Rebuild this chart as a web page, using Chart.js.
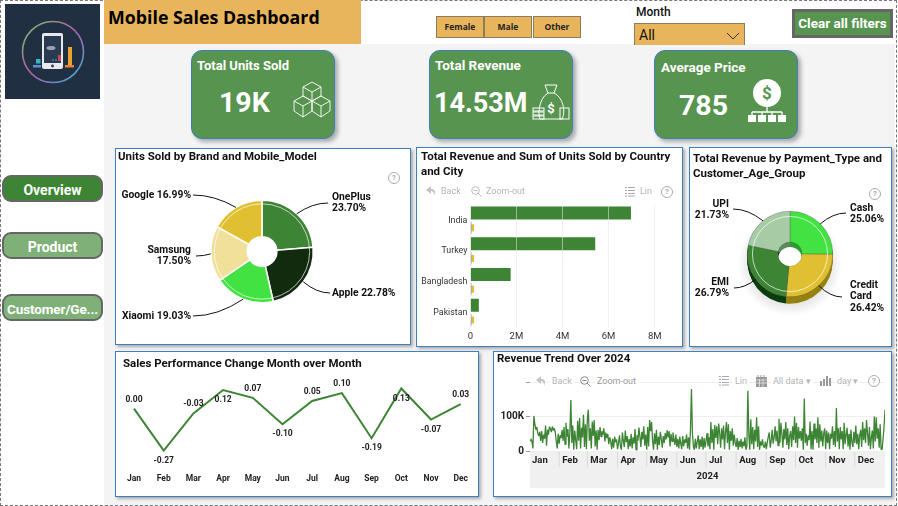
<!DOCTYPE html>
<html>
<head>
<meta charset="utf-8">
<title>Mobile Sales Dashboard</title>
<script src="https://cdn.jsdelivr.net/npm/chart.js@4"></script>
<style>
html, body { margin: 0; padding: 0; background: #fff; }
body { width: 898px; height: 506px; position: relative; overflow: hidden; font-family: Roboto, sans-serif; color: #111; }
div, span, svg, canvas { position: absolute; }
#frame { left: 0; top: 0; width: 895px; height: 504px; border: 1px dashed #777; }
#floor { left: 104px; top: 44px; width: 791px; height: 462px; background: #f4f4f4; }
#titlebar { left: 104px; top: 0; width: 257px; height: 44px; background: #e9b55c; }
#titlebar span { left: 4px; top: 5px; font: 700 17.8px "Open Sans", sans-serif; white-space: nowrap; color: #000; }
#logo { left: 5px; top: 4px; width: 95px; height: 95px; }
.slicer { top: 16px; height: 20px; background: #e9b55c; border: 1px solid #8d7c5c; font: 700 8.5px/20px "Open Sans", sans-serif; text-align: center; color: #222; }
#monthLabel { left: 636px; top: 5px; font: 500 12px Roboto; white-space: nowrap; }
#monthBox { left: 634px; top: 23px; width: 109px; height: 21px; background: #e9b55c; border: 1px solid #8d7c5c; border-bottom: 0; }
#monthBox span { left: 4px; top: 3px; font: 400 14px Roboto; }
#clear { left: 792px; top: 9px; width: 95px; height: 23px; background: #57944f; border: 3px solid #666; color: #fff; font: 700 13.5px/23px Roboto; text-align: center; white-space: nowrap; }
.nav { left: 2px; width: 97px; height: 23px; border: 2px solid #666; border-radius: 9px; color: #fff; font: 700 14px/26px Roboto; text-align: center; white-space: nowrap; }
.card { top: 50px; width: 142px; height: 87px; background: #57944f; border: 1px solid #3f7fbf; border-radius: 11px; box-shadow: 3px 3px 4px #aaa; }
.cardtitle { color: #fff; font: 700 13.5px Roboto; white-space: nowrap; }
.cardvalue { color: #fff; font: 700 28.5px Roboto; white-space: nowrap; }
.panel { background: #fff; border: 1px solid #3f7fbf; box-shadow: 2px 2px 3px #aaa; }
.ptitle { font: 700 11.5px/14.5px Roboto; color: #111; }
.tb { font: 400 9px Roboto; color: #b4b4b4; white-space: nowrap; }
.help { width: 10px; height: 10px; border: 1px solid #aaa; border-radius: 50%; font: 700 8px/10px Roboto; color: #aaa; text-align: center; }
</style>
</head>
<body>
<div id="floor"></div>
<div id="frame"></div>

<svg id="logo" viewBox="0 0 95 95">
  <defs><linearGradient id="ringGrad" x1="0" y1="0" x2="1" y2="1">
    <stop offset="0" stop-color="#7fc06a"/><stop offset=".5" stop-color="#b05aa8"/><stop offset="1" stop-color="#35b8d8"/>
  </linearGradient></defs>
  <rect width="95" height="95" fill="#212f42"/>
  <circle cx="48" cy="48" r="30.5" fill="none" stroke="url(#ringGrad)" stroke-width="1.6"/>
  <rect x="37" y="29" width="21" height="36" rx="2" fill="#e8e8ee"/>
  <rect x="39" y="32" width="17" height="27" fill="#2a3a50"/>
  <ellipse cx="46" cy="44" rx="4.5" ry="2" fill="#9aa3b2"/>
  <circle cx="47.5" cy="62" r="1.4" fill="#2a3a50"/>
  <rect x="63" y="43" width="4" height="19" fill="#eda42e"/>
  <rect x="60" y="61" width="9" height="2.5" fill="#e8853a"/>
  <rect x="31" y="55" width="4.5" height="4.5" fill="#36b6c6"/>
  <rect x="28" y="61" width="8" height="2.5" fill="#5b8fd0"/>
  <rect x="53" y="51" width="3" height="6" fill="#c44a4a"/>
  <rect x="47" y="55" width="2" height="2" fill="#3a6aa0"/>
  <rect x="50" y="55" width="2" height="2" fill="#3a6aa0"/>
</svg>

<div id="titlebar"><span>Mobile Sales Dashboard</span></div>

<div class="slicer" style="left:436px;width:46px">Female</div>
<div class="slicer" style="left:484px;width:46px">Male</div>
<div class="slicer" style="left:533px;width:46px">Other</div>
<div id="monthLabel">Month</div>
<div id="monthBox"><span>All</span>
  <svg style="left:91px;top:8px" width="14" height="8"><path d="M1 1 L7 7 L13 1" fill="none" stroke="#333"/></svg>
</div>
<div id="clear">Clear all filters</div>

<div class="nav" style="top:175px;background:#3d8535">Overview</div>
<div class="nav" style="top:232px;background:#7fb078">Product</div>
<div class="nav" style="top:294px;background:#7fb078;font-size:13.5px;letter-spacing:-0.1px">Customer/Ge...</div>

<div class="card" style="left:191px"></div>
<div class="cardtitle" style="left:197px;top:58px;font-size:13px">Total Units Sold</div>
<div class="cardvalue" style="left:219px;top:86px">19K</div>
<svg style="left:293px;top:81px" width="38" height="38" fill="none" stroke="#fff" stroke-width=".9">
  <path d="M19 1 L28 6 L28 15 L19 20 L10 15 L10 6 Z M10 6 L19 11 L28 6 M19 11 L19 20"/>
  <path d="M10 15 L19 20 L19 30 L10 36 L1 30 L1 20 Z M1 20 L10 25 L19 20 M10 25 L10 36"/>
  <path d="M28 15 L37 20 L37 30 L28 36 L19 30 L19 20 Z M19 20 L28 25 L37 20 M28 25 L28 36"/>
</svg>

<div class="card" style="left:429px"></div>
<div class="cardtitle" style="left:435px;top:57px">Total Revenue</div>
<div class="cardvalue" style="left:434px;top:87px;font-size:27px">14.53M</div>
<svg style="left:532px;top:84px" width="38" height="38" fill="none" stroke="#fff" stroke-width="1">
  <path d="M13 1 L25 1 L22 9 L16 9 Z M16 9 C6 15 6 32 8 35 L30 35 C33 30 33 15 22 9"/>
  <rect x="1" y="24" width="11" height="3"/><rect x="1" y="28" width="11" height="3"/><rect x="1" y="32" width="11" height="3"/>
  <rect x="28" y="24" width="9" height="11"/>
  <text x="19" y="29" font-size="13" font-weight="700" text-anchor="middle" fill="#fff" stroke="none">$</text>
</svg>

<div class="card" style="left:654px"></div>
<div class="cardtitle" style="left:661px;top:59px">Average Price</div>
<div class="cardvalue" style="left:679px;top:89px">785</div>
<svg style="left:747px;top:79px" width="40" height="44">
  <circle cx="20" cy="14" r="14" fill="#fff"/>
  <text x="20" y="20" font-size="17" font-weight="700" text-anchor="middle" fill="#57944f">$</text>
  <path d="M20 28 L20 33 M5 33 L35 33 M5 33 L5 36 M15 33 L15 36 M25 33 L25 36 M35 33 L35 36" stroke="#fff" stroke-width="1.3"/>
  <rect x="1" y="36" width="8" height="7" fill="#fff"/><rect x="11" y="36" width="8" height="7" fill="#fff"/>
  <rect x="21" y="36" width="8" height="7" fill="#fff"/><rect x="31" y="36" width="8" height="7" fill="#fff"/>
</svg>

<div class="panel" style="left:115px;top:148px;width:294px;height:195px"></div>
<div class="panel" style="left:416px;top:147px;width:265px;height:198px"></div>
<div class="panel" style="left:689px;top:147px;width:201px;height:198px"></div>
<div class="panel" style="left:115px;top:351px;width:362px;height:144px"></div>
<div class="panel" style="left:493px;top:351px;width:397px;height:144px"></div>

<canvas id="brandChart" style="left:115px;top:148px" width="295" height="196"></canvas>
<canvas id="countryChart" style="left:416px;top:147px" width="266" height="199"></canvas>
<canvas id="paymentChart" style="left:689px;top:147px" width="202" height="199"></canvas>
<canvas id="changeChart" style="left:115px;top:351px" width="363" height="145"></canvas>
<canvas id="trendChart" style="left:493px;top:351px" width="398" height="145"></canvas>

<div class="ptitle" style="left:118px;top:149px;white-space:nowrap">Units Sold by Brand and Mobile_Model</div>
<div class="ptitle" style="left:421px;top:149px;width:260px">Total Revenue and Sum of Units Sold by Country and City</div>
<div class="ptitle" style="left:693px;top:151px;width:195px">Total Revenue by Payment_Type and Customer_Age_Group</div>
<div class="ptitle" style="left:123px;top:356px;white-space:nowrap">Sales Performance Change Month over Month</div>
<div class="ptitle" style="left:497px;top:351px;white-space:nowrap">Revenue Trend Over 2024</div>

<div class="help" style="left:388px;top:172px">?</div>
<div class="help" style="left:869px;top:188px">?</div>

<svg style="left:426px;top:186px" width="10" height="10"><path d="M5 0 L0 4 L5 8 L5 5 C7 5 8 7 8 10 C10 5 9 3 5 3 Z" fill="#c4c4c4"/></svg>
<span class="tb" style="left:441px;top:186px">Back</span>
<svg style="left:471px;top:186px" width="11" height="11" fill="none" stroke="#bbb"><circle cx="4.5" cy="4.5" r="3.8"/><path d="M7 7 L10.5 10.5 M2.5 4.5 H6.5"/></svg>
<span class="tb" style="left:486px;top:186px">Zoom-out</span>
<svg style="left:625px;top:186px" width="10" height="11" stroke="#aaa"><path d="M0 1.5 H2 M3 1.5 H10 M0 4.5 H2 M3 4.5 H10 M0 7.5 H2 M3 7.5 H10 M0 10 H2 M3 10 H10"/></svg>
<span class="tb" style="left:640px;top:186px">Lin</span>
<div class="help" style="left:661px;top:186px">?</div>

<svg style="left:536px;top:376px" width="10" height="10"><path d="M5 0 L0 4 L5 8 L5 5 C7 5 8 7 8 10 C10 5 9 3 5 3 Z" fill="#c4c4c4"/></svg>
<span class="tb" style="left:550px;top:376px;background:#fff;padding:0 2px">Back</span>
<svg style="left:580px;top:376px" width="11" height="11" fill="none" stroke="#888"><circle cx="4.5" cy="4.5" r="3.8"/><path d="M7 7 L10.5 10.5 M2.5 4.5 H6.5"/></svg>
<span class="tb" style="left:595px;top:376px;background:#fff;padding:0 2px;color:#999">Zoom-out</span>
<svg style="left:719px;top:375px" width="10" height="11" stroke="#aaa"><path d="M0 1.5 H2 M3 1.5 H10 M0 4.5 H2 M3 4.5 H10 M0 7.5 H2 M3 7.5 H10 M0 10 H2 M3 10 H10"/></svg>
<span class="tb" style="left:733px;top:376px;background:#fff;padding:0 2px">Lin</span>
<svg style="left:756px;top:375px" width="11" height="12"><rect x="0" y="2" width="11" height="10" fill="#999"/><path d="M2 0 V3 M5 0 V3 M8 0 V3" stroke="#999"/><path d="M0 5 H11 M0 8 H11 M3.5 4 V12 M7 4 V12" stroke="#fff" stroke-width=".6"/></svg>
<span class="tb" style="left:771px;top:376px;background:#fff;padding:0 2px">All data ▾</span>
<svg style="left:820px;top:375px" width="11" height="11" fill="#999"><rect x="0" y="6" width="2" height="5"/><rect x="3" y="4" width="2" height="7"/><rect x="6" y="1" width="2" height="10"/><rect x="9" y="3" width="2" height="8"/></svg>
<span class="tb" style="left:835px;top:376px;background:#fff;padding:0 2px">day ▾</span>
<div class="help" style="left:868px;top:375px;background:#fff">?</div>

<script>
// units sold by brand, % of total
const brands = ["OnePlus", "Apple", "Xiaomi", "Samsung", "Google"];
const brandShare = [23.70, 22.78, 19.03, 17.50, 16.99];
const brandColors = ["#3d8535", "#122b0f", "#42e243", "#f0e09a", "#e0c030"];

// revenue and units by country
const countries = ["India", "Turkey", "Bangladesh", "Pakistan"];
const countryRevenue = [6970000, 5420000, 1750000, 370000];
const countryUnits = [9100, 7100, 2300, 500];
const countryOther = [120000, 120000, 120000, 120000];

// revenue by payment type, % of total
const paymentTypes = ["Cash", "Credit Card", "EMI", "UPI"];
const paymentShare = [25.06, 26.42, 26.79, 21.73];
const paymentColors = ["#42e243", "#e0c030", "#3d8535", "#a7cca5"];
const paymentSides = ["#2c9a2c", "#96800f", "#0c3d10", "#5c8a5a"];

// month over month change
const months = ["Jan", "Feb", "Mar", "Apr", "May", "Jun", "Jul", "Aug", "Sep", "Oct", "Nov", "Dec"];
const monthChange = [0.00, -0.27, -0.03, 0.12, 0.07, -0.10, 0.05, 0.10, -0.19, 0.13, -0.07, 0.03];
const changeLabelBelow = [false, true, false, true, false, true, false, false, true, true, true, false];

// daily revenue in thousands
const janDays = [30, 36, 28, 8, 102, 78, 62, 70, 52, 44, 56, 30, 58, 24, 48, 36, 74, 16, 62, 48, 71, 64, 55, 72, 60, 66, 54, 28, 8, 50, 22];
const febDays = [46, 38, 62, 30, 70, 20, 82, 42, 64, 8, 55, 148, 24, 74, 4, 60, 32, 6, 88, 30, 96, 8, 68, 40, 105, 12, 78, 6, 95];
const marDays = [120, 30, 66, 8, 86, 44, 90, 14, 60, 4, 62, 32, 70, 42, 58, 48, 66, 28, 54, 38, 50, 20, 40, 28, 6, 36, 10, 42, 26, 34, 6];
const aprDays = [24, 46, 14, 4, 54, 30, 12, 60, 26, 44, 6, 36, 14, 50, 8, 40, 22, 64, 4, 46, 30, 68, 42, 12, 56, 34, 72, 16, 48, 4];
const mayDays = [70, 14, 90, 58, 84, 30, 4, 52, 20, 62, 4, 42, 18, 56, 36, 10, 44, 24, 52, 34, 60, 40, 58, 14, 50, 28, 54, 36, 18, 48, 12];
const junDays = [36, 8, 42, 22, 6, 44, 14, 34, 24, 48, 8, 40, 4, 62, 180, 52, 14, 4, 36, 8, 28, 46, 6, 34, 12, 42, 4, 38, 10, 30];
const julDays = [52, 14, 40, 6, 84, 24, 64, 4, 76, 38, 72, 20, 80, 52, 10, 66, 34, 74, 6, 56, 84, 24, 78, 4, 58, 30, 66, 16, 48, 24, 12];
const augDays = [38, 4, 30, 12, 36, 8, 28, 14, 40, 4, 14, 175, 46, 4, 92, 20, 70, 6, 62, 28, 98, 12, 72, 4, 28, 16, 34, 14, 10, 28, 6];
const sepDays = [26, 42, 54, 10, 30, 62, 22, 40, 72, 28, 60, 16, 94, 24, 82, 50, 10, 64, 34, 84, 18, 66, 6, 44, 58, 12, 72, 32, 100, 24];
const octDays = [82, 10, 70, 36, 58, 30, 66, 4, 152, 24, 50, 16, 46, 32, 86, 6, 58, 4, 80, 34, 66, 24, 98, 10, 78, 28, 60, 14, 52, 66, 6];
const novDays = [60, 24, 54, 6, 50, 36, 72, 18, 58, 12, 125, 28, 66, 6, 70, 34, 58, 6, 82, 20, 48, 68, 14, 50, 4, 62, 26, 12, 56, 24];
const decDays = [74, 20, 50, 6, 46, 62, 12, 84, 32, 66, 24, 90, 52, 16, 70, 6, 40, 60, 8, 100, 28, 98, 36, 66, 10, 78, 6, 4, 36, 70, 120];
const monthDays = [janDays, febDays, marDays, aprDays, mayDays, junDays, julDays, augDays, sepDays, octDays, novDays, decDays];
const dailyRevenue = monthDays.flat();

const labelFont = "700 10.3px Roboto";

// label spots on the page for the pie callouts
const brandCallouts = [
    { lines: ["OnePlus", "23.70%"], x: 332, y: 197, lineX: 328, lineY: 203, align: "left" },
    { lines: ["Apple 22.78%"], x: 332, y: 293, lineX: 330, lineY: 293, align: "left" },
    { lines: ["Xiaomi 19.03%"], x: 191, y: 316, lineX: 193, lineY: 316, align: "right" },
    { lines: ["Samsung", "17.50%"], x: 191, y: 250, lineX: 196, lineY: 256, align: "right" },
    { lines: ["Google 16.99%"], x: 191, y: 195, lineX: 193, lineY: 195, align: "right" },
];
const paymentCallouts = [
    { lines: ["Cash", "25.06%"], x: 850, y: 208, lineX: 846, lineY: 213, align: "left" },
    { lines: ["Credit", "Card", "26.42%"], x: 850, y: 285, lineX: 842, lineY: 297, align: "left" },
    { lines: ["EMI", "26.79%"], x: 729, y: 282, lineX: 734, lineY: 288, align: "right" },
    { lines: ["UPI", "21.73%"], x: 729, y: 204, lineX: 733, lineY: 209, align: "right" },
];

// leader lines and the thin white ring on the doughnuts
const calloutPlugin = {
    id: "callouts",
    afterDatasetsDraw(chart, args, opts) {
        const ctx = chart.ctx;
        const arcs = chart.getDatasetMeta(0).data;
        const left = chart.canvas.offsetLeft;
        const top = chart.canvas.offsetTop;
        ctx.save();
        ctx.strokeStyle = "rgba(255,255,255,0.85)";
        ctx.lineWidth = 0.8;
        ctx.beginPath();
        ctx.arc(arcs[0].x, arcs[0].y, arcs[0].outerRadius * opts.ring, 0, Math.PI * 2);
        ctx.stroke();

        ctx.font = labelFont;
        ctx.fillStyle = "#111";
        ctx.textBaseline = "middle";
        arcs.forEach((arc, i) => {
            const spot = opts.spots[i];
            const mid = (arc.startAngle + arc.endAngle) / 2;
            const ax = arc.x + arc.outerRadius * Math.cos(mid);
            const ay = arc.y + arc.outerRadius * Math.sin(mid);
            const ex = spot.lineX - left;
            const ey = spot.lineY - top;
            ctx.strokeStyle = "#111";
            ctx.lineWidth = 1;
            ctx.beginPath();
            ctx.moveTo(ex, ey);
            ctx.quadraticCurveTo((ax + ex) / 2, ey, ax, ay);
            ctx.stroke();
            ctx.textAlign = spot.align;
            spot.lines.forEach((line, n) => {
                ctx.fillText(line, spot.x - left, spot.y - top + n * 11.8);
            });
        });
        ctx.restore();
    }
};

// side wall, shadow and hole of the tilted payment doughnut
const extrudePlugin = {
    id: "extrude",
    beforeDatasetsDraw(chart) {
        const ctx = chart.ctx;
        const arcs = chart.getDatasetMeta(0).data;
        const first = arcs[0];
        ctx.save();
        const glow = ctx.createRadialGradient(first.x, first.y + 10, first.outerRadius * 0.8, first.x, first.y + 10, first.outerRadius * 1.22);
        glow.addColorStop(0, "rgba(150,150,150,0.35)");
        glow.addColorStop(1, "rgba(150,150,150,0)");
        ctx.fillStyle = glow;
        ctx.beginPath();
        ctx.arc(first.x, first.y + 10, first.outerRadius * 1.22, 0, Math.PI * 2);
        ctx.fill();
        for (let k = 7; k > 0; k--) {
            arcs.forEach((arc, i) => {
                ctx.fillStyle = paymentSides[i];
                ctx.beginPath();
                ctx.arc(arc.x, arc.y + k, arc.outerRadius, arc.startAngle, arc.endAngle);
                ctx.arc(arc.x, arc.y + k, arc.innerRadius, arc.endAngle, arc.startAngle, true);
                ctx.closePath();
                ctx.fill();
            });
        }
        ctx.restore();
    },
    afterDatasetsDraw(chart) {
        const ctx = chart.ctx;
        const arcs = chart.getDatasetMeta(0).data;
        const first = arcs[0];
        ctx.save();
        ctx.beginPath();
        ctx.arc(first.x, first.y, first.innerRadius, 0, Math.PI * 2);
        ctx.clip();
        arcs.forEach((arc, i) => {
            ctx.fillStyle = paymentSides[i];
            ctx.beginPath();
            ctx.moveTo(arc.x, arc.y);
            ctx.arc(arc.x, arc.y, arc.innerRadius + 1, arc.startAngle, arc.endAngle);
            ctx.closePath();
            ctx.fill();
        });
        ctx.fillStyle = "#fff";
        ctx.beginPath();
        ctx.arc(first.x, first.y + 5, first.innerRadius, 0, Math.PI * 2);
        ctx.fill();
        ctx.restore();
    }
};

// value labels on the month over month line
const changeLabelPlugin = {
    id: "changeLabels",
    afterDatasetsDraw(chart) {
        const ctx = chart.ctx;
        ctx.save();
        ctx.font = "700 8.5px Roboto";
        ctx.fillStyle = "#222";
        ctx.textAlign = "center";
        ctx.textBaseline = "middle";
        chart.getDatasetMeta(0).data.forEach((pt, i) => {
            const y = pt.y + (changeLabelBelow[i] ? 10 : -9);
            ctx.fillText(monthChange[i].toFixed(2), pt.x, y);
        });
        ctx.restore();
    }
};

// month and year strip under the daily trend
const dateStripPlugin = {
    id: "dateStrip",
    beforeDraw(chart) {
        const ctx = chart.ctx;
        const area = chart.chartArea;
        const x = chart.scales.x;
        ctx.save();
        ctx.fillStyle = "#f0f0f0";
        ctx.fillRect(area.left, area.bottom, area.right - area.left, 37);
        ctx.strokeStyle = "#d9d9d9";
        ctx.fillStyle = "#222";
        ctx.font = "700 9.5px Roboto";
        ctx.textBaseline = "middle";
        let day = 0;
        monthDays.forEach((days, i) => {
            const px = x.getPixelForValue(day);
            if (i > 0) {
                ctx.beginPath();
                ctx.moveTo(px - 1, area.bottom);
                ctx.lineTo(px - 1, area.bottom + 16);
                ctx.stroke();
            }
            ctx.fillText(months[i], px + 2, area.bottom + 9.5);
            day += days.length;
        });
        ctx.textAlign = "center";
        ctx.fillText("2024", (area.left + area.right) / 2, area.bottom + 25);
        ctx.restore();
    }
};

Chart.defaults.animation = false;
Chart.defaults.responsive = false;
Chart.defaults.font.family = "Roboto";
Chart.defaults.plugins.legend.display = false;
Chart.defaults.plugins.tooltip.enabled = false;

new Chart(document.getElementById("brandChart"), {
    type: "doughnut",
    data: {
        labels: brands,
        datasets: [{ data: brandShare, backgroundColor: brandColors, borderColor: "#fff", borderWidth: 1.5 }],
    },
    options: {
        cutout: "29%",
        layout: { padding: { left: 95, right: 96, top: 51.5, bottom: 40.5 } },
        plugins: { callouts: { spots: brandCallouts, ring: 0.93 } },
    },
    plugins: [calloutPlugin],
});

new Chart(document.getElementById("countryChart"), {
    type: "bar",
    data: {
        labels: countries,
        datasets: [
            { label: "Total Revenue", data: countryRevenue, backgroundColor: "#3d8535", stack: "revenue", barPercentage: 0.89 },
            { label: "Sum of Units Sold", data: countryUnits, backgroundColor: "#4a4fb0", stack: "units", barPercentage: 0.82, minBarLength: 1 },
            { label: "Other", data: countryOther, backgroundColor: "#e0c030", stack: "units", barPercentage: 0.48 },
        ],
    },
    options: {
        indexAxis: "y",
        layout: { padding: { top: 58, right: 27.3 } },
        datasets: { bar: { categoryPercentage: 0.95 } },
        scales: {
            x: {
                min: 0,
                max: 8000000,
                afterFit(scale) { scale.height = 18; },
                grid: { color: "rgba(228,228,228,0.55)", z: 1, drawTicks: false },
                border: { display: false },
                ticks: {
                    stepSize: 2000000,
                    padding: 3,
                    color: "#333",
                    font: { size: 9.5 },
                    maxRotation: 0,
                    callback: (v) => (v === 0 ? "0" : v / 1000000 + "M"),
                },
            },
            y: {
                afterFit(scale) { scale.width = 54.3; },
                grid: { display: false, drawTicks: false },
                border: { display: false },
                ticks: { color: "#333", font: { size: 8.8 }, padding: 3 },
            },
        },
    },
});

new Chart(document.getElementById("paymentChart"), {
    type: "doughnut",
    data: {
        labels: paymentTypes,
        datasets: [{ data: paymentShare, backgroundColor: paymentColors, borderColor: "rgba(90,90,90,0.6)", borderWidth: 0.6 }],
    },
    options: {
        cutout: "28%",
        layout: { padding: { left: 58, right: 58, top: 64, bottom: 49 } },
        plugins: { callouts: { spots: paymentCallouts, ring: 0.88 } },
    },
    plugins: [extrudePlugin, calloutPlugin],
});

new Chart(document.getElementById("changeChart"), {
    type: "line",
    data: {
        labels: months,
        datasets: [{ data: monthChange, borderColor: "#3d8535", borderWidth: 2, pointRadius: 0, tension: 0 }],
    },
    options: {
        layout: { padding: { left: 19, right: 17.3, top: 26.6 } },
        scales: {
            x: {
                afterFit(scale) { scale.height = 40.7; },
                offset: false,
                // tick marks stay invisible, their length only pushes the labels down
                grid: { display: false, drawTicks: true, tickLength: 18 },
                border: { display: false },
                ticks: { color: "#222", font: { size: 8.5, weight: "700" }, padding: 0, maxRotation: 0, autoSkip: false },
            },
            y: { display: false, min: -0.3, max: 0.2 },
        },
    },
    plugins: [changeLabelPlugin],
});

new Chart(document.getElementById("trendChart"), {
    type: "line",
    data: {
        labels: dailyRevenue.map((v, i) => i),
        datasets: [{ data: dailyRevenue, borderColor: "#3d8535", borderWidth: 1.3, pointRadius: 0, tension: 0, borderJoinStyle: "bevel" }],
    },
    options: {
        layout: { padding: { right: 6, top: 31, bottom: 44.8 } },
        scales: {
            x: { type: "linear", display: false, min: 0, max: dailyRevenue.length - 1 },
            y: {
                min: 0,
                max: 200,
                afterFit(scale) { scale.width = 37; },
                grid: { color: "#efefef", tickColor: "#999", tickLength: 4 },
                border: { display: false },
                ticks: {
                    stepSize: 100,
                    color: "#222",
                    padding: 2,
                    font: { size: 10, weight: "700" },
                    callback: (v) => (v === 0 ? "0" : v === 100 ? "100K" : ""),
                },
            },
        },
    },
    plugins: [dateStripPlugin],
});
</script>
</body>
</html>
